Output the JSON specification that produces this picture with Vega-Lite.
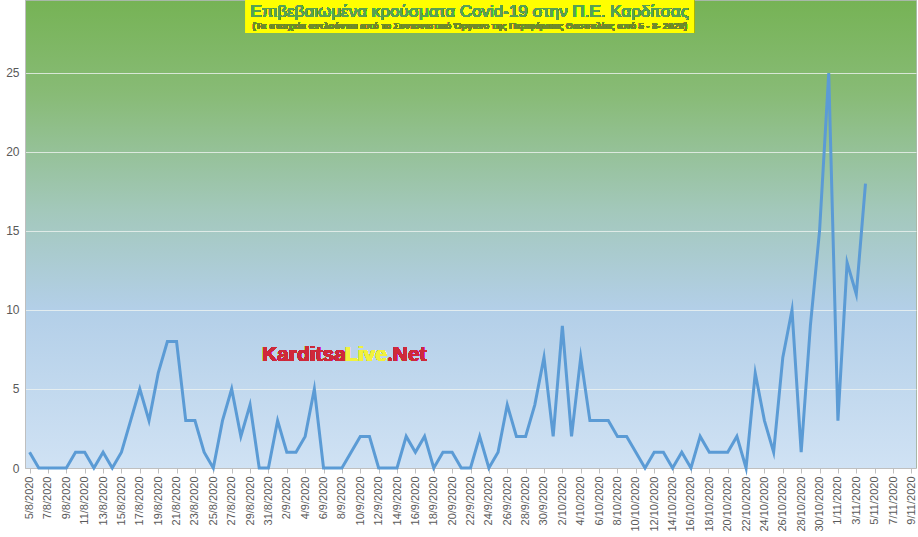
{
  "$schema": "https://vega.github.io/schema/vega-lite/v6.json",
  "width": 891,
  "height": 468,
  "autosize": {"type": "none"},
  "padding": {"left": 25, "top": 0, "right": 2, "bottom": 69},
  "background": "#ffffff",
  "view": {
    "stroke": "#a8b8a8",
    "strokeWidth": 1,
    "fill": {
      "gradient": "linear",
      "x1": 0, "y1": 0, "x2": 0, "y2": 1,
      "stops": [
        {"offset": 0, "color": "#76b355"},
        {"offset": 0.2, "color": "#88bb76"},
        {"offset": 0.45, "color": "#a3c8bb"},
        {"offset": 0.66, "color": "#b3cfe8"},
        {"offset": 1, "color": "#d0e2f4"}
      ]
    }
  },
  "config": {
    "font": "Liberation Sans"
  },
  "resolve": {"axis": {"x": "independent", "y": "independent"}},
  "data": {
    "values": [
      {"date": "2020-08-05", "cases": 1},
      {"date": "2020-08-06", "cases": 0},
      {"date": "2020-08-07", "cases": 0},
      {"date": "2020-08-08", "cases": 0},
      {"date": "2020-08-09", "cases": 0},
      {"date": "2020-08-10", "cases": 1},
      {"date": "2020-08-11", "cases": 1},
      {"date": "2020-08-12", "cases": 0},
      {"date": "2020-08-13", "cases": 1},
      {"date": "2020-08-14", "cases": 0},
      {"date": "2020-08-15", "cases": 1},
      {"date": "2020-08-16", "cases": 3},
      {"date": "2020-08-17", "cases": 5},
      {"date": "2020-08-18", "cases": 3},
      {"date": "2020-08-19", "cases": 6},
      {"date": "2020-08-20", "cases": 8},
      {"date": "2020-08-21", "cases": 8},
      {"date": "2020-08-22", "cases": 3},
      {"date": "2020-08-23", "cases": 3},
      {"date": "2020-08-24", "cases": 1},
      {"date": "2020-08-25", "cases": 0},
      {"date": "2020-08-26", "cases": 3},
      {"date": "2020-08-27", "cases": 5},
      {"date": "2020-08-28", "cases": 2},
      {"date": "2020-08-29", "cases": 4},
      {"date": "2020-08-30", "cases": 0},
      {"date": "2020-08-31", "cases": 0},
      {"date": "2020-09-01", "cases": 3},
      {"date": "2020-09-02", "cases": 1},
      {"date": "2020-09-03", "cases": 1},
      {"date": "2020-09-04", "cases": 2},
      {"date": "2020-09-05", "cases": 5},
      {"date": "2020-09-06", "cases": 0},
      {"date": "2020-09-07", "cases": 0},
      {"date": "2020-09-08", "cases": 0},
      {"date": "2020-09-09", "cases": 1},
      {"date": "2020-09-10", "cases": 2},
      {"date": "2020-09-11", "cases": 2},
      {"date": "2020-09-12", "cases": 0},
      {"date": "2020-09-13", "cases": 0},
      {"date": "2020-09-14", "cases": 0},
      {"date": "2020-09-15", "cases": 2},
      {"date": "2020-09-16", "cases": 1},
      {"date": "2020-09-17", "cases": 2},
      {"date": "2020-09-18", "cases": 0},
      {"date": "2020-09-19", "cases": 1},
      {"date": "2020-09-20", "cases": 1},
      {"date": "2020-09-21", "cases": 0},
      {"date": "2020-09-22", "cases": 0},
      {"date": "2020-09-23", "cases": 2},
      {"date": "2020-09-24", "cases": 0},
      {"date": "2020-09-25", "cases": 1},
      {"date": "2020-09-26", "cases": 4},
      {"date": "2020-09-27", "cases": 2},
      {"date": "2020-09-28", "cases": 2},
      {"date": "2020-09-29", "cases": 4},
      {"date": "2020-09-30", "cases": 7},
      {"date": "2020-10-01", "cases": 2},
      {"date": "2020-10-02", "cases": 9},
      {"date": "2020-10-03", "cases": 2},
      {"date": "2020-10-04", "cases": 7},
      {"date": "2020-10-05", "cases": 3},
      {"date": "2020-10-06", "cases": 3},
      {"date": "2020-10-07", "cases": 3},
      {"date": "2020-10-08", "cases": 2},
      {"date": "2020-10-09", "cases": 2},
      {"date": "2020-10-10", "cases": 1},
      {"date": "2020-10-11", "cases": 0},
      {"date": "2020-10-12", "cases": 1},
      {"date": "2020-10-13", "cases": 1},
      {"date": "2020-10-14", "cases": 0},
      {"date": "2020-10-15", "cases": 1},
      {"date": "2020-10-16", "cases": 0},
      {"date": "2020-10-17", "cases": 2},
      {"date": "2020-10-18", "cases": 1},
      {"date": "2020-10-19", "cases": 1},
      {"date": "2020-10-20", "cases": 1},
      {"date": "2020-10-21", "cases": 2},
      {"date": "2020-10-22", "cases": 0},
      {"date": "2020-10-23", "cases": 6},
      {"date": "2020-10-24", "cases": 3},
      {"date": "2020-10-25", "cases": 1},
      {"date": "2020-10-26", "cases": 7},
      {"date": "2020-10-27", "cases": 10},
      {"date": "2020-10-28", "cases": 1},
      {"date": "2020-10-29", "cases": 9},
      {"date": "2020-10-30", "cases": 15},
      {"date": "2020-10-31", "cases": 25},
      {"date": "2020-11-01", "cases": 3},
      {"date": "2020-11-02", "cases": 13},
      {"date": "2020-11-03", "cases": 11},
      {"date": "2020-11-04", "cases": 18}
    ]
  },
  "layer": [
    {
      "mark": {"type": "line", "color": "#5b9bd5", "strokeWidth": 3, "strokeJoin": "miter", "strokeMiterLimit": 10},
      "encoding": {
        "x": {
          "field": "date",
          "type": "temporal",
          "scale": {
            "type": "utc",
            "domain": [
              {"utc": true, "year": 2020, "month": 8, "date": 4, "hours": 12},
              {"utc": true, "year": 2020, "month": 11, "date": 9, "hours": 12}
            ]
          },
          "axis": {
            "title": null,
            "format": "%-d/%-m/%Y",
            "labelAngle": 270,
            "labelAlign": "right",
            "labelBaseline": "middle",
            "labelFontSize": 11,
            "labelColor": "#595959",
            "labelPadding": 3,
            "labelOverlap": false,
            "labelFlush": false,
            "labelBound": false,
            "tickSize": 5,
            "tickColor": "#bfbfbf",
            "domainColor": "#bfbfbf",
            "grid": false,
            "values": [
              {"utc": true, "year": 2020, "month": 8, "date": 5},
              {"utc": true, "year": 2020, "month": 8, "date": 7},
              {"utc": true, "year": 2020, "month": 8, "date": 9},
              {"utc": true, "year": 2020, "month": 8, "date": 11},
              {"utc": true, "year": 2020, "month": 8, "date": 13},
              {"utc": true, "year": 2020, "month": 8, "date": 15},
              {"utc": true, "year": 2020, "month": 8, "date": 17},
              {"utc": true, "year": 2020, "month": 8, "date": 19},
              {"utc": true, "year": 2020, "month": 8, "date": 21},
              {"utc": true, "year": 2020, "month": 8, "date": 23},
              {"utc": true, "year": 2020, "month": 8, "date": 25},
              {"utc": true, "year": 2020, "month": 8, "date": 27},
              {"utc": true, "year": 2020, "month": 8, "date": 29},
              {"utc": true, "year": 2020, "month": 8, "date": 31},
              {"utc": true, "year": 2020, "month": 9, "date": 2},
              {"utc": true, "year": 2020, "month": 9, "date": 4},
              {"utc": true, "year": 2020, "month": 9, "date": 6},
              {"utc": true, "year": 2020, "month": 9, "date": 8},
              {"utc": true, "year": 2020, "month": 9, "date": 10},
              {"utc": true, "year": 2020, "month": 9, "date": 12},
              {"utc": true, "year": 2020, "month": 9, "date": 14},
              {"utc": true, "year": 2020, "month": 9, "date": 16},
              {"utc": true, "year": 2020, "month": 9, "date": 18},
              {"utc": true, "year": 2020, "month": 9, "date": 20},
              {"utc": true, "year": 2020, "month": 9, "date": 22},
              {"utc": true, "year": 2020, "month": 9, "date": 24},
              {"utc": true, "year": 2020, "month": 9, "date": 26},
              {"utc": true, "year": 2020, "month": 9, "date": 28},
              {"utc": true, "year": 2020, "month": 9, "date": 30},
              {"utc": true, "year": 2020, "month": 10, "date": 2},
              {"utc": true, "year": 2020, "month": 10, "date": 4},
              {"utc": true, "year": 2020, "month": 10, "date": 6},
              {"utc": true, "year": 2020, "month": 10, "date": 8},
              {"utc": true, "year": 2020, "month": 10, "date": 10},
              {"utc": true, "year": 2020, "month": 10, "date": 12},
              {"utc": true, "year": 2020, "month": 10, "date": 14},
              {"utc": true, "year": 2020, "month": 10, "date": 16},
              {"utc": true, "year": 2020, "month": 10, "date": 18},
              {"utc": true, "year": 2020, "month": 10, "date": 20},
              {"utc": true, "year": 2020, "month": 10, "date": 22},
              {"utc": true, "year": 2020, "month": 10, "date": 24},
              {"utc": true, "year": 2020, "month": 10, "date": 26},
              {"utc": true, "year": 2020, "month": 10, "date": 28},
              {"utc": true, "year": 2020, "month": 10, "date": 30},
              {"utc": true, "year": 2020, "month": 11, "date": 1},
              {"utc": true, "year": 2020, "month": 11, "date": 3},
              {"utc": true, "year": 2020, "month": 11, "date": 5},
              {"utc": true, "year": 2020, "month": 11, "date": 7},
              {"utc": true, "year": 2020, "month": 11, "date": 9}
            ]
          }
        },
        "y": {
          "field": "cases",
          "type": "quantitative",
          "scale": {"domain": [0, 29.62], "nice": false, "zero": true},
          "axis": {
            "title": null,
            "values": [0, 5, 10, 15, 20, 25],
            "ticks": false,
            "labelPadding": 6,
            "labelFontSize": 12,
            "labelColor": "#595959",
            "domainColor": "#bfbfbf",
            "gridColor": "#eef2f0",
            "gridWidth": 1,
            "gridOpacity": 0.8
          }
        }
      }
    },
    {
      "mark": {"type": "rect", "color": "#ffff00"},
      "encoding": {
        "x": {"datum": {"utc": true, "year": 2020, "month": 8, "date": 28, "hours": 13}, "type": "temporal", "axis": null},
        "x2": {"datum": {"utc": true, "year": 2020, "month": 10, "date": 16, "hours": 8}},
        "y": {"datum": 29.62, "type": "quantitative", "axis": null},
        "y2": {"datum": 27.53}
      }
    },
    {
      "mark": {"type": "text", "text": "Επιβεβαιωμένα κρούσματα Covid-19 στην Π.Ε. Καρδίτσας", "fontSize": 17, "color": "#58a055", "align": "center", "baseline": "middle"},
      "encoding": {
        "x": {"datum": {"utc": true, "year": 2020, "month": 9, "date": 21, "hours": 22}, "type": "temporal", "axis": null},
        "y": {"datum": 28.86, "type": "quantitative", "axis": null}
      }
    },
    {
      "mark": {"type": "text", "text": "(Τα στοιχεία αντλούνται από το Συντονιστικό Όργανο της Περιφέρειας Θεσσαλίας από 5 - 8- 2020)", "fontSize": 9.4, "fontWeight": "bold", "color": "#6f8a2e", "align": "center", "baseline": "middle"},
      "encoding": {
        "x": {"datum": {"utc": true, "year": 2020, "month": 9, "date": 21, "hours": 22}, "type": "temporal", "axis": null},
        "y": {"datum": 27.97, "type": "quantitative", "axis": null}
      }
    },
    {
      "mark": {"type": "text", "text": "Karditsa", "fontSize": 21, "fontWeight": "bold", "color": "#d0283a", "align": "left", "baseline": "middle"},
      "encoding": {
        "x": {"datum": {"utc": true, "year": 2020, "month": 8, "date": 30, "hours": 7}, "type": "temporal", "axis": null},
        "y": {"datum": 7.15, "type": "quantitative", "axis": null}
      }
    },
    {
      "mark": {"type": "text", "text": "Live", "fontSize": 21, "fontWeight": "bold", "color": "#f2f23c", "align": "left", "baseline": "middle", "dx": 83},
      "encoding": {
        "x": {"datum": {"utc": true, "year": 2020, "month": 8, "date": 30, "hours": 7}, "type": "temporal", "axis": null},
        "y": {"datum": 7.15, "type": "quantitative", "axis": null}
      }
    },
    {
      "mark": {"type": "text", "text": ".Net", "fontSize": 21, "fontWeight": "bold", "color": "#d0283a", "align": "left", "baseline": "middle", "dx": 125},
      "encoding": {
        "x": {"datum": {"utc": true, "year": 2020, "month": 8, "date": 30, "hours": 7}, "type": "temporal", "axis": null},
        "y": {"datum": 7.15, "type": "quantitative", "axis": null}
      }
    }
  ]
}
